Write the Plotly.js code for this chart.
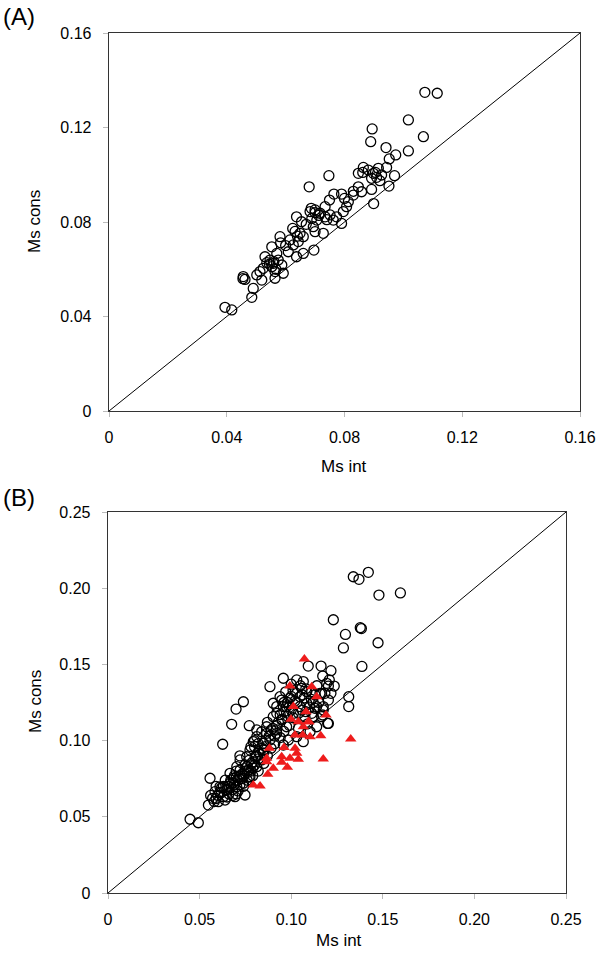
<!DOCTYPE html>
<html>
<head>
<meta charset="utf-8">
<script src="https://cdn.plot.ly/plotly-3.0.1.min.js"></script>
<style>html,body{margin:0;padding:0;background:#fff;}#chart{width:600px;height:955px;}</style>
</head>
<body>
<div id="chart"></div>
<script>
// Panel A: Ms int (x) vs Ms cons (y)
const aX = [0.1073,0.1115,0.1017,0.1068,0.1017,0.0894,0.0889,0.0941,0.0974,0.0952,0.0747,0.0680,0.0864,0.0881,0.0898,0.0915,0.0926,0.0892,0.0909,0.0847,0.0943,0.0970,0.0951,0.0892,0.0899,0.0847,0.0858,0.0830,0.0813,0.0807,0.0796,0.0790,0.0773,0.0762,0.0764,0.0790,0.0749,0.0734,0.0683,0.0700,0.0717,0.0734,0.0751,0.0689,0.0706,0.0654,0.0637,0.0694,0.0700,0.0728,0.0696,0.0624,0.0649,0.0660,0.0643,0.0626,0.0609,0.0637,0.0660,0.0615,0.0581,0.0583,0.0553,0.0570,0.0547,0.0558,0.0575,0.0587,0.0530,0.0524,0.0592,0.0564,0.0513,0.0519,0.0502,0.0456,0.0462,0.0490,0.0485,0.0394,0.0417,0.0536,0.0564,0.0553,0.0560,0.0545,0.0567,0.0700,0.0713,0.0687,0.0862,0.0905,0.0920,0.0640,0.0632,0.0455,0.0600,0.0830,0.0740,0.0800,0.0670];
const aY = [0.1349,0.1345,0.1232,0.1161,0.1101,0.1194,0.1140,0.1115,0.1084,0.1067,0.0996,0.0949,0.1031,0.1020,0.1006,0.1027,0.0999,0.0985,0.0989,0.1006,0.1031,0.0996,0.0952,0.0938,0.0878,0.0949,0.0928,0.0914,0.0886,0.0865,0.0844,0.0794,0.0822,0.0808,0.0918,0.0918,0.0893,0.0865,0.0844,0.0851,0.0837,0.0822,0.0830,0.0815,0.0808,0.0801,0.0822,0.0780,0.0759,0.0752,0.0681,0.0773,0.0752,0.0738,0.0717,0.0703,0.0674,0.0653,0.0667,0.0724,0.0738,0.0712,0.0695,0.0667,0.0639,0.0625,0.0639,0.0618,0.0653,0.0604,0.0583,0.0562,0.0590,0.0554,0.0576,0.0569,0.0557,0.0519,0.0481,0.0439,0.0428,0.0628,0.0590,0.0611,0.0632,0.0622,0.0600,0.0840,0.0828,0.0858,0.1010,0.1010,0.0975,0.0740,0.0760,0.0560,0.0700,0.0930,0.0810,0.0900,0.0790];

// Panel B: circles
const bCircX = [0.1339,0.1370,0.1421,0.1479,0.1596,0.1230,0.1296,0.1377,0.1383,0.1285,0.1474,0.1386,0.1314,0.1314,0.1163,0.1093,0.1217,0.1172,0.1208,0.1235,0.1203,0.1217,0.1184,0.1157,0.1175,0.1172,0.1203,0.1130,0.1121,0.0957,0.0884,0.1030,0.1066,0.1057,0.1112,0.1194,0.0739,0.0699,0.0675,0.0626,0.0557,0.0771,0.0812,0.0866,0.0902,0.0939,0.0921,0.0975,0.0948,0.0993,0.1048,0.1085,0.1139,0.1112,0.1166,0.1199,0.1139,0.1103,0.1066,0.1030,0.0984,0.0957,0.0921,0.0884,0.0848,0.0812,0.0793,0.0775,0.0821,0.0757,0.0721,0.0703,0.0748,0.0784,0.0812,0.0839,0.0666,0.0684,0.0721,0.0748,0.0693,0.0648,0.0630,0.0611,0.0584,0.0571,0.0602,0.0639,0.0548,0.0448,0.0493,0.0703,0.0739,0.0775,0.0666,0.0721,0.0766,0.0803,0.0848,0.0866,0.0839,0.0921,0.0957,0.0948,0.0902,0.0975,0.1012,0.1048,0.1075,0.1030,0.1085,0.1166,0.1203,0.1175,0.0650,0.0680,0.0700,0.0730,0.0760,0.0790,0.0680,0.0620,0.0660,0.0710,0.0740,0.0760,0.0790,0.0820,0.0850,0.0870,0.0890,0.0910,0.0940,0.0960,0.0990,0.1010,0.1000,0.0980,0.1020,0.1060,0.1090,0.1040,0.0900,0.0870,0.0920,0.0850,0.0800,0.0820,0.0770,0.0700,0.0640,0.0600,0.0590,0.0560,0.0630,0.0720,0.0950,0.1070,0.1110,0.1150,0.0970,0.1000,
  0.0610,0.0620,0.0650,0.0660,0.0670,0.0690,0.0690,0.0710,0.0720,0.0730,0.0740,0.0750,0.0760,0.0780,0.0790,0.0800,0.0810,0.0830,0.0840,0.0860,0.0860,0.0880,0.0890,0.0910,0.0920,0.0930,0.0940,0.0960,0.0960,0.0980,0.0990,0.1000,0.1010,0.1030,0.1040,0.1050,0.1060,0.1080,0.1100,0.1120,0.1130,0.1080,0.1140,0.0770,0.0700,0.0650,0.0590,0.0580,0.0680,0.0820,0.0800,0.0780];
const bCircY = [0.2075,0.2058,0.2104,0.1955,0.1969,0.1793,0.1697,0.1741,0.1735,0.1608,0.1642,0.1487,0.1288,0.1223,0.1489,0.1489,0.1459,0.1424,0.1398,0.1358,0.1358,0.1310,0.1310,0.1310,0.1223,0.1168,0.1113,0.1212,0.1157,0.1409,0.1354,0.1398,0.1387,0.1343,0.1321,0.1376,0.1255,0.1207,0.1107,0.0976,0.0753,0.1098,0.1070,0.1091,0.1245,0.1288,0.1179,0.1223,0.1135,0.1278,0.1288,0.1245,0.1223,0.1179,0.1157,0.1113,0.1091,0.1058,0.0993,0.1026,0.1004,0.0971,0.1048,0.1004,0.0982,0.1026,0.0993,0.0938,0.0927,0.0894,0.0873,0.0829,0.0840,0.0851,0.0829,0.0873,0.0785,0.0753,0.0763,0.0643,0.0632,0.0676,0.0632,0.0697,0.0665,0.0621,0.0599,0.0610,0.0577,0.0484,0.0461,0.0697,0.0720,0.0763,0.0720,0.0807,0.0807,0.0894,0.0917,0.1048,0.1058,0.1223,0.1223,0.1266,0.1157,0.1091,0.1179,0.1223,0.1157,0.1310,0.1321,0.1310,0.1266,0.1201,0.0700,0.0720,0.0760,0.0780,0.0790,0.0820,0.0680,0.0660,0.0650,0.0670,0.0700,0.0740,0.0770,0.0800,0.0850,0.0900,0.0950,0.0980,0.1020,0.1060,0.1100,0.1150,0.1200,0.1250,0.1260,0.1200,0.1110,0.1080,0.1080,0.1120,0.1100,0.0940,0.0960,0.0880,0.0870,0.0800,0.0740,0.0640,0.0700,0.0640,0.0700,0.0900,0.1140,0.1280,0.1270,0.1250,0.1320,0.1370,
  0.0660,0.0690,0.0680,0.0700,0.0740,0.0710,0.0770,0.0740,0.0710,0.0750,0.0770,0.0800,0.0830,0.0800,0.0860,0.0840,0.0900,0.0910,0.0950,0.0960,0.1000,0.1030,0.1070,0.1030,0.1070,0.1120,0.1170,0.1190,0.1250,0.1160,0.1220,0.1290,0.1330,0.1250,0.1180,0.1360,0.1300,0.1190,0.1220,0.1250,0.1300,0.1340,0.1360,0.0760,0.0650,0.0630,0.0620,0.0600,0.0640,0.0980,0.1000,0.0960];

// Panel B: triangles
const bTriX = [0.1072,0.1112,0.1139,0.1081,0.1190,0.1093,0.1161,0.1103,0.1325,0.1175,0.0993,0.1012,0.0999,0.1039,0.1097,0.1066,0.1021,0.1063,0.0881,0.0961,0.1021,0.0866,0.0948,0.0993,0.1039,0.1030,0.0866,0.0902,0.0948,0.0979,0.0872,0.0793,0.0830];
const bTriY = [0.1535,0.1354,0.1288,0.1190,0.1168,0.1124,0.1032,0.1026,0.1010,0.0879,0.1358,0.1223,0.1140,0.1124,0.1124,0.1091,0.1037,0.1037,0.0949,0.0954,0.0949,0.0884,0.0894,0.0884,0.0877,0.0917,0.0862,0.0818,0.0858,0.0825,0.0779,0.0709,0.0702];

// Identity lines
const diagA = [0, 0.16];
const diagB = [0, 0.25];
const ticksA = [0, 0.04, 0.08, 0.12, 0.16];
const tickTextA = ['0', '0.04', '0.08', '0.12', '0.16'];
const ticksB = [0, 0.05, 0.10, 0.15, 0.20, 0.25];
const tickTextB = ['0', '0.05', '0.10', '0.15', '0.20', '0.25'];

const FONT = 'Liberation Sans, Arial, sans-serif';
const circ = {symbol: 'circle-open', size: 10, color: '#000', line: {width: 1.3, color: '#000'}};

const traces = [
  {x: diagA, y: diagA, mode: 'lines', line: {color: '#000', width: 1}, xaxis: 'x', yaxis: 'y', hoverinfo: 'skip'},
  {x: aX, y: aY, mode: 'markers', marker: circ, xaxis: 'x', yaxis: 'y'},
  {x: diagB, y: diagB, mode: 'lines', line: {color: '#000', width: 1}, xaxis: 'x2', yaxis: 'y2', hoverinfo: 'skip'},
  {x: bCircX, y: bCircY, mode: 'markers', marker: circ, xaxis: 'x2', yaxis: 'y2'},
  {x: bTriX, y: bTriY, mode: 'markers', marker: {symbol: 'triangle-up', size: 10, color: '#ee1c1c', line: {width: 0}}, xaxis: 'x2', yaxis: 'y2'}
];

function ax(domain, range, tv, tt, anchor, standoff) {
  return {
    domain: domain, range: range, anchor: anchor,
    tickmode: 'array', tickvals: tv, ticktext: tt,
    showgrid: false, zeroline: false,
    showline: true, linecolor: '#333', linewidth: 1.3, mirror: true,
    ticks: 'outside', ticklen: 5, tickcolor: '#bbb', tickwidth: 1,
    ticklabelstandoff: standoff,
    tickfont: {family: FONT, size: 16, color: '#000'}
  };
}

const layout = {
  width: 600, height: 955,
  margin: {l: 0, r: 0, t: 0, b: 0},
  paper_bgcolor: '#fff', plot_bgcolor: '#fff',
  showlegend: false,
  xaxis: ax([109/600, 580/600], [0, 0.16], ticksA, tickTextA, 'y', 6),
  yaxis: ax([1 - 411/955, 1 - 33/955], [0, 0.16], ticksA, tickTextA, 'x', 8),
  xaxis2: ax([108/600, 566/600], [0, 0.25], ticksB, tickTextB, 'y2', 6),
  yaxis2: ax([1 - 893/955, 1 - 512/955], [0, 0.25], ticksB, tickTextB, 'x2', 8),
  annotations: [
    {text: '(A)', x: 1/600, y: 1 - 16/955, xref: 'paper', yref: 'paper', xanchor: 'left', yanchor: 'middle', showarrow: false, font: {family: FONT, size: 24, color: '#000'}},
    {text: '(B)', x: 1/600, y: 1 - 497/955, xref: 'paper', yref: 'paper', xanchor: 'left', yanchor: 'middle', showarrow: false, font: {family: FONT, size: 24, color: '#000'}},
    {text: 'Ms int', x: 344/600, y: 1 - 467/955, xref: 'paper', yref: 'paper', xanchor: 'center', yanchor: 'middle', showarrow: false, font: {family: FONT, size: 17, color: '#000'}},
    {text: 'Ms int', x: 339/600, y: 1 - 940/955, xref: 'paper', yref: 'paper', xanchor: 'center', yanchor: 'middle', showarrow: false, font: {family: FONT, size: 17, color: '#000'}},
    {text: 'Ms cons', x: 35/600, y: 1 - 222/955, xref: 'paper', yref: 'paper', xanchor: 'center', yanchor: 'middle', textangle: -90, showarrow: false, font: {family: FONT, size: 17, color: '#000'}},
    {text: 'Ms cons', x: 35/600, y: 1 - 702/955, xref: 'paper', yref: 'paper', xanchor: 'center', yanchor: 'middle', textangle: -90, showarrow: false, font: {family: FONT, size: 17, color: '#000'}}
  ]
};

Plotly.newPlot('chart', traces, layout, {staticPlot: true, displayModeBar: false});
</script>
</body>
</html>
